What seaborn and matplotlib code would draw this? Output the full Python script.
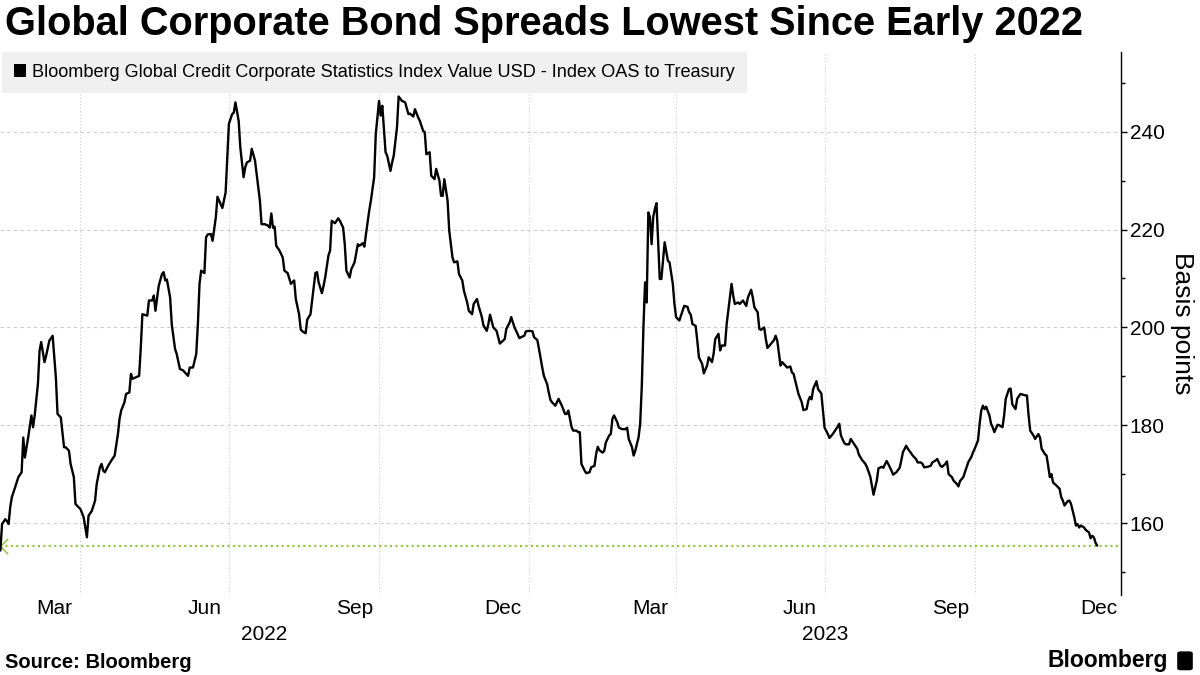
import matplotlib
matplotlib.use('Agg')
import matplotlib.pyplot as plt
import matplotlib.dates as mdates
import matplotlib.ticker as mticker
from matplotlib.patches import Patch, FancyBboxPatch
import pandas as pd
import seaborn as sns

title = 'Global Corporate Bond Spreads Lowest Since Early 2022'
series_name = 'Bloomberg Global Credit Corporate Statistics Index Value USD - Index OAS to Treasury'
y_label = 'Basis points'
source = 'Source: Bloomberg'
brand = 'Bloomberg'

# index OAS (one line per month)
dates = [
    '2022-02-11', '2022-02-12', '2022-02-14', '2022-02-15', '2022-02-16', '2022-02-17', '2022-02-18', '2022-02-20', '2022-02-22', '2022-02-24', '2022-02-25', '2022-02-26', '2022-02-28',
    '2022-03-02', '2022-03-03', '2022-03-04', '2022-03-06', '2022-03-07', '2022-03-08', '2022-03-10', '2022-03-11', '2022-03-13', '2022-03-15', '2022-03-17', '2022-03-18', '2022-03-20', '2022-03-22', '2022-03-23', '2022-03-25', '2022-03-26', '2022-03-28', '2022-03-29', '2022-03-31',
    '2022-04-01', '2022-04-03', '2022-04-04', '2022-04-05', '2022-04-06', '2022-04-08', '2022-04-10', '2022-04-11', '2022-04-13', '2022-04-14', '2022-04-15', '2022-04-16', '2022-04-18', '2022-04-20', '2022-04-22', '2022-04-24', '2022-04-25', '2022-04-26', '2022-04-28', '2022-04-29',
    '2022-05-01', '2022-05-02', '2022-05-03', '2022-05-05', '2022-05-07', '2022-05-08', '2022-05-09', '2022-05-12', '2022-05-13', '2022-05-15', '2022-05-16', '2022-05-17', '2022-05-19', '2022-05-21', '2022-05-22', '2022-05-23', '2022-05-24', '2022-05-26', '2022-05-27', '2022-05-29', '2022-05-30',
    '2022-06-01', '2022-06-03', '2022-06-04', '2022-06-06', '2022-06-07', '2022-06-09', '2022-06-11', '2022-06-12', '2022-06-13', '2022-06-14', '2022-06-16', '2022-06-17', '2022-06-18', '2022-06-20', '2022-06-21', '2022-06-23', '2022-06-24', '2022-06-26', '2022-06-27', '2022-06-29', '2022-06-30',
    '2022-07-01', '2022-07-03', '2022-07-04', '2022-07-05', '2022-07-07', '2022-07-08', '2022-07-10', '2022-07-11', '2022-07-12', '2022-07-14', '2022-07-15', '2022-07-17', '2022-07-19', '2022-07-20', '2022-07-21', '2022-07-23', '2022-07-25', '2022-07-26', '2022-07-27', '2022-07-28', '2022-07-29', '2022-07-30',
    '2022-08-01', '2022-08-03', '2022-08-04', '2022-08-06', '2022-08-08', '2022-08-10', '2022-08-11', '2022-08-13', '2022-08-14', '2022-08-15', '2022-08-17', '2022-08-18', '2022-08-20', '2022-08-21', '2022-08-23', '2022-08-24', '2022-08-25', '2022-08-27', '2022-08-28', '2022-08-29', '2022-08-31',
    '2022-09-01', '2022-09-02', '2022-09-04', '2022-09-06', '2022-09-07', '2022-09-09', '2022-09-10', '2022-09-11', '2022-09-13', '2022-09-14', '2022-09-16', '2022-09-18', '2022-09-19', '2022-09-21', '2022-09-22', '2022-09-23', '2022-09-25', '2022-09-26', '2022-09-28', '2022-09-29',
    '2022-10-01', '2022-10-02', '2022-10-03', '2022-10-05', '2022-10-06', '2022-10-08', '2022-10-09', '2022-10-10', '2022-10-12', '2022-10-13', '2022-10-15', '2022-10-17', '2022-10-19', '2022-10-20', '2022-10-22', '2022-10-23', '2022-10-25', '2022-10-26', '2022-10-28', '2022-10-29', '2022-10-30',
    '2022-11-01', '2022-11-02', '2022-11-04', '2022-11-05', '2022-11-07', '2022-11-08', '2022-11-09', '2022-11-10', '2022-11-12', '2022-11-13', '2022-11-15', '2022-11-16', '2022-11-18', '2022-11-19', '2022-11-21', '2022-11-22', '2022-11-24', '2022-11-25', '2022-11-27', '2022-11-28', '2022-11-30',
    '2022-12-01', '2022-12-03', '2022-12-04', '2022-12-06', '2022-12-07', '2022-12-08', '2022-12-10', '2022-12-12', '2022-12-13', '2022-12-14', '2022-12-16', '2022-12-17', '2022-12-18', '2022-12-20', '2022-12-21', '2022-12-23', '2022-12-24', '2022-12-26', '2022-12-27', '2022-12-29', '2022-12-30',
    '2023-01-01', '2023-01-03', '2023-01-04', '2023-01-06', '2023-01-07', '2023-01-09', '2023-01-10', '2023-01-12', '2023-01-13', '2023-01-14', '2023-01-15', '2023-01-17', '2023-01-19', '2023-01-21', '2023-01-23', '2023-01-24', '2023-01-25', '2023-01-27', '2023-01-28', '2023-01-30', '2023-01-31',
    '2023-02-01', '2023-02-02', '2023-02-04', '2023-02-05', '2023-02-07', '2023-02-08', '2023-02-10', '2023-02-11', '2023-02-12', '2023-02-13', '2023-02-15', '2023-02-16', '2023-02-17', '2023-02-19', '2023-02-20', '2023-02-21', '2023-02-22', '2023-02-24', '2023-02-25', '2023-02-27',
    '2023-03-01', '2023-03-02', '2023-03-03', '2023-03-05', '2023-03-06', '2023-03-07', '2023-03-09', '2023-03-10', '2023-03-11', '2023-03-12', '2023-03-13', '2023-03-14', '2023-03-15', '2023-03-16', '2023-03-17', '2023-03-18', '2023-03-19', '2023-03-20', '2023-03-22', '2023-03-23', '2023-03-24', '2023-03-25', '2023-03-27', '2023-03-28', '2023-03-30', '2023-03-31',
    '2023-04-01', '2023-04-03', '2023-04-05', '2023-04-06', '2023-04-08', '2023-04-09', '2023-04-10', '2023-04-11', '2023-04-13', '2023-04-14', '2023-04-15', '2023-04-17', '2023-04-18', '2023-04-20', '2023-04-21', '2023-04-23', '2023-04-24', '2023-04-25', '2023-04-27', '2023-04-28', '2023-04-29',
    '2023-05-01', '2023-05-02', '2023-05-03', '2023-05-05', '2023-05-06', '2023-05-07', '2023-05-09', '2023-05-10', '2023-05-12', '2023-05-14', '2023-05-15', '2023-05-17', '2023-05-18', '2023-05-19', '2023-05-21', '2023-05-22', '2023-05-23', '2023-05-25', '2023-05-26', '2023-05-27', '2023-05-29', '2023-05-31',
    '2023-06-01', '2023-06-02', '2023-06-04', '2023-06-05', '2023-06-07', '2023-06-08', '2023-06-10', '2023-06-11', '2023-06-12', '2023-06-14', '2023-06-15', '2023-06-17', '2023-06-18', '2023-06-20', '2023-06-21', '2023-06-22', '2023-06-23', '2023-06-24', '2023-06-26', '2023-06-27', '2023-06-29', '2023-06-30',
    '2023-07-01', '2023-07-03', '2023-07-04', '2023-07-06', '2023-07-08', '2023-07-09', '2023-07-10', '2023-07-11', '2023-07-13', '2023-07-14', '2023-07-16', '2023-07-17', '2023-07-19', '2023-07-21', '2023-07-22', '2023-07-24', '2023-07-26', '2023-07-27', '2023-07-29', '2023-07-30', '2023-07-31',
    '2023-08-02', '2023-08-03', '2023-08-05', '2023-08-06', '2023-08-08', '2023-08-09', '2023-08-11', '2023-08-12', '2023-08-14', '2023-08-16', '2023-08-17', '2023-08-18', '2023-08-20', '2023-08-21', '2023-08-23', '2023-08-24', '2023-08-26', '2023-08-27', '2023-08-29', '2023-08-30', '2023-08-31',
    '2023-09-02', '2023-09-04', '2023-09-05', '2023-09-07', '2023-09-08', '2023-09-10', '2023-09-11', '2023-09-13', '2023-09-14', '2023-09-15', '2023-09-17', '2023-09-18', '2023-09-20', '2023-09-21', '2023-09-22', '2023-09-24', '2023-09-25', '2023-09-27', '2023-09-29', '2023-09-30',
    '2023-10-01', '2023-10-03', '2023-10-04', '2023-10-05', '2023-10-06', '2023-10-07', '2023-10-08', '2023-10-10', '2023-10-11', '2023-10-12', '2023-10-13', '2023-10-15', '2023-10-16', '2023-10-18', '2023-10-19', '2023-10-20', '2023-10-22', '2023-10-23', '2023-10-24', '2023-10-26', '2023-10-27', '2023-10-29', '2023-10-30',
    '2023-11-01', '2023-11-02', '2023-11-03', '2023-11-04', '2023-11-06', '2023-11-07', '2023-11-09', '2023-11-10', '2023-11-11', '2023-11-13', '2023-11-14', '2023-11-15', '2023-11-16', '2023-11-17', '2023-11-18', '2023-11-20', '2023-11-22', '2023-11-23', '2023-11-24', '2023-11-25', '2023-11-27', '2023-11-28', '2023-11-29',
    '2023-12-01', '2023-12-02', '2023-12-03', '2023-12-04', '2023-12-05', '2023-12-07', '2023-12-08', '2023-12-10', '2023-12-11', '2023-12-12', '2023-12-13', '2023-12-14', '2023-12-15',
]

oas = [
    154.4, 159.8, 160.8, 160.4, 159.8, 163.2, 165.3, 167.3, 169.4, 170.4, 177.5, 173.4, 177.5,
    182.0, 179.6, 182.0, 188.5, 195.3, 197.0, 192.9, 194.2, 197.3, 198.3, 189.7, 182.3, 181.6, 175.5, 175.5, 174.8, 172.1, 169.4, 163.9, 163.2,
    162.9, 161.2, 159.1, 157.1, 161.5, 162.5, 164.6, 168.0, 171.4, 172.1, 170.7, 170.4, 171.7, 172.8, 173.8, 178.2, 181.3, 183.0, 184.7, 186.4,
    186.7, 190.5, 189.5, 189.8, 190.1, 195.8, 202.7, 202.4, 205.5, 205.5, 206.5, 203.4, 208.5, 210.9, 211.3, 209.6, 209.8, 206.1, 200.6, 195.6, 194.6,
    191.5, 191.2, 190.8, 190.1, 191.8, 191.8, 194.6, 200.7, 208.9, 211.6, 211.1, 218.4, 219.0, 219.1, 217.7, 222.5, 226.7, 225.2, 224.4, 227.6, 234.8,
    241.6, 243.6, 243.9, 246.0, 242.2, 236.8, 230.7, 232.7, 233.7, 234.1, 236.5, 234.1, 228.6, 225.9, 221.1, 221.1, 220.8, 220.4, 223.3, 220.4, 220.6, 216.7,
    215.7, 214.3, 211.6, 211.1, 208.9, 209.6, 205.8, 202.7, 199.6, 199.2, 198.8, 201.6, 202.7, 205.5, 211.1, 211.3, 209.2, 207.0, 208.5, 210.2, 214.7,
    215.7, 221.8, 221.3, 222.3, 221.8, 220.4, 217.0, 211.6, 210.2, 211.9, 213.3, 217.0, 216.7, 217.2, 216.5, 219.1, 223.9, 225.9, 230.7, 239.5,
    246.3, 243.3, 245.3, 235.8, 235.1, 232.0, 233.7, 235.1, 240.9, 247.2, 246.3, 246.0, 243.6, 243.7, 243.1, 244.6, 242.9, 242.2, 240.2, 239.9, 235.4,
    235.8, 231.0, 230.3, 232.4, 230.0, 226.9, 226.9, 230.3, 225.9, 219.8, 214.3, 213.3, 213.5, 210.9, 209.6, 207.5, 205.1, 203.4, 202.7, 204.8, 205.8,
    204.4, 202.1, 200.4, 199.3, 200.7, 202.6, 200.0, 199.3, 198.0, 196.7, 197.3, 197.6, 199.7, 201.0, 202.1, 200.0, 199.3, 197.8, 198.0, 198.3, 199.2,
    199.3, 199.2, 198.0, 197.4, 195.6, 191.8, 190.1, 188.4, 186.7, 185.2, 184.7, 184.0, 185.4, 184.0, 182.3, 182.3, 183.0, 179.6, 178.9, 178.9, 178.6,
    178.6, 172.1, 170.7, 170.2, 170.4, 171.4, 171.7, 174.1, 175.6, 174.9, 174.4, 174.8, 176.5, 177.9, 178.2, 181.3, 182.0, 180.6, 179.5, 179.2,
    179.2, 179.5, 177.2, 175.5, 173.8, 174.8, 177.5, 180.3, 188.0, 200.0, 209.2, 205.1, 223.5, 222.5, 217.0, 222.5, 224.2, 225.4, 209.9, 209.9, 213.6, 217.4, 213.6, 213.3, 208.9, 204.8,
    202.1, 201.4, 203.4, 204.4, 204.2, 203.1, 202.6, 200.7, 200.3, 197.3, 193.9, 192.5, 190.6, 192.2, 193.9, 192.9, 194.6, 197.6, 198.7, 195.3, 196.3,
    196.3, 200.7, 203.4, 208.9, 206.5, 204.8, 205.1, 204.8, 205.5, 204.4, 206.1, 207.7, 206.1, 204.1, 203.1, 199.7, 199.5, 200.0, 197.6, 195.8, 196.6, 197.4,
    198.3, 197.3, 192.2, 192.9, 192.2, 191.8, 192.0, 190.8, 190.5, 187.8, 186.4, 184.7, 183.1, 183.3, 185.0, 185.8, 185.3, 187.4, 189.0, 187.4, 186.5, 183.0,
    179.5, 178.2, 177.4, 178.2, 179.2, 179.7, 180.3, 177.9, 176.4, 176.1, 176.1, 177.2, 176.2, 175.2, 174.0, 172.9, 172.1, 171.4, 169.5, 167.7, 165.8,
    168.7, 171.2, 171.5, 171.3, 172.7, 172.1, 170.7, 169.9, 170.4, 171.3, 172.8, 174.5, 175.8, 175.2, 174.3, 173.8, 173.1, 172.4, 172.4, 172.1, 171.4,
    171.5, 171.7, 172.4, 172.8, 173.1, 171.7, 171.5, 172.1, 172.6, 170.0, 169.4, 168.7, 168.0, 167.5, 168.6, 169.4, 170.4, 172.4, 173.6, 174.5,
    175.2, 176.9, 180.3, 183.0, 184.0, 183.3, 183.8, 182.0, 180.3, 179.6, 178.6, 180.1, 180.0, 179.6, 182.0, 185.4, 187.4, 187.5, 184.3, 183.3, 185.4, 186.4, 186.3,
    186.1, 186.1, 182.0, 178.9, 177.9, 177.2, 178.2, 177.5, 175.2, 174.1, 173.8, 171.7, 169.4, 170.0, 168.3, 167.7, 167.0, 165.3, 164.6, 163.6, 164.5, 164.6, 163.9,
    161.2, 159.5, 159.8, 159.1, 159.5, 159.1, 158.6, 158.1, 156.9, 157.4, 157.1, 156.0, 155.4,
]

x_range = ('2022-02-10 18:00', '2023-12-29 12:00')
y_range = (145.3, 256.3)

assert len(dates) == len(oas)
df = pd.DataFrame({'date': pd.to_datetime(dates), 'oas': oas})

sns.set_theme(style='white')
plt.rcParams['font.family'] = ['Liberation Sans', 'DejaVu Sans']
plt.rcParams['text.color'] = 'black'
plt.rcParams['axes.labelcolor'] = 'black'
plt.rcParams['xtick.color'] = 'black'
plt.rcParams['ytick.color'] = 'black'

fig = plt.figure(figsize=(12, 6.75), dpi=100)
ax = fig.add_axes([0.0, 0.1185, 0.934, 0.8045])

sns.lineplot(data=df, x='date', y='oas', color='black', linewidth=1.7, ax=ax, zorder=3)

# last value marker line
last = oas[-1]
green = '#8cc63f'
ax.axhline(last, color=green, linestyle=(0, (1, 1.6)), linewidth=1.5, zorder=2)
ax.plot([pd.Timestamp(x_range[0])], [last], marker=[(1, 1), (0, 0), (1, -1)],
        markersize=11, markerfacecolor='none', markeredgecolor=green,
        markeredgewidth=1.1, linestyle='none', clip_on=False, zorder=2)

ax.set_xlim(pd.Timestamp(x_range[0]), pd.Timestamp(x_range[1]))
ax.set_ylim(*y_range)

# gridlines at quarter starts, month names centred in the month
ax.xaxis.set_major_locator(mdates.MonthLocator(bymonth=[1, 4, 7, 10]))
ax.xaxis.set_major_formatter(mticker.NullFormatter())
ax.xaxis.set_minor_locator(mdates.MonthLocator(bymonth=[3, 6, 9, 12], bymonthday=16))
ax.xaxis.set_minor_formatter(mdates.DateFormatter('%b'))
ax.tick_params(axis='x', which='both', length=0, labelsize=15, pad=3, colors='black')

ax.yaxis.tick_right()
ax.yaxis.set_label_position('right')
ax.yaxis.set_major_locator(mticker.MultipleLocator(20))
ax.yaxis.set_minor_locator(mticker.MultipleLocator(10))
ax.tick_params(axis='y', which='major', direction='out', length=4.2, width=1,
               pad=2.2, labelsize=15, colors='black', right=True, left=False)
ax.tick_params(axis='y', which='minor', direction='out', length=3, width=1,
               right=True, left=False, colors='black')
ax.set_ylabel(y_label, rotation=270, fontsize=19, labelpad=4, va='bottom', color='black')
ax.set_xlabel('')

ax.grid(axis='y', which='major', color='#cccccc', linestyle=(0, (3, 3)), linewidth=0.8)
ax.grid(axis='x', which='major', color='#cccccc', linestyle=(0, (1, 2)), linewidth=0.8)
ax.set_axisbelow(True)

for side in ['left', 'top', 'bottom']:
    ax.spines[side].set_visible(False)
ax.spines['right'].set_color('black')
ax.spines['right'].set_linewidth(1)

# year labels centred on the visible part of each year
x0, x1 = pd.Timestamp(x_range[0]), pd.Timestamp(x_range[1])
for year in [2022, 2023]:
    a = max(x0, pd.Timestamp(f'{year}-01-01'))
    b = min(x1, pd.Timestamp(f'{year + 1}-01-01'))
    mid = a + (b - a) / 2
    ax.annotate(str(year), xy=(mdates.date2num(mid), 0), xycoords=('data', 'axes fraction'),
                xytext=(0, -39), textcoords='offset pixels', ha='center', va='center',
                fontsize=15, color='black', annotation_clip=False)

handle = Patch(facecolor='black', edgecolor='none')
leg = ax.legend(handles=[handle], labels=[series_name], loc='upper left',
                bbox_to_anchor=(0.0017, 1.0), borderaxespad=0, frameon=True,
                fancybox=False, facecolor='#f0f0f0', edgecolor='none', framealpha=1,
                fontsize=13.1, handlelength=0.7, handleheight=0.7,
                handletextpad=0.3, borderpad=0.65)
for t in leg.get_texts():
    t.set_color('black')
leg.set_zorder(5)

fig.text(0.004, 0.964, title, fontsize=28.6, fontweight='bold', va='center', ha='left', color='black')
fig.text(0.004, 0.019, source, fontsize=14.5, fontweight='bold', va='center', ha='left', color='black')
fig.text(0.973, 0.022, brand, fontsize=16.5, fontweight='bold', va='center', ha='right', color='black')
fig.patches.append(FancyBboxPatch((0.981, 0.007), 0.013, 0.028,
                                  boxstyle='round,pad=0,rounding_size=0.003',
                                  transform=fig.transFigure, facecolor='black',
                                  edgecolor='none'))

fig.savefig('out.png', dpi=100)
